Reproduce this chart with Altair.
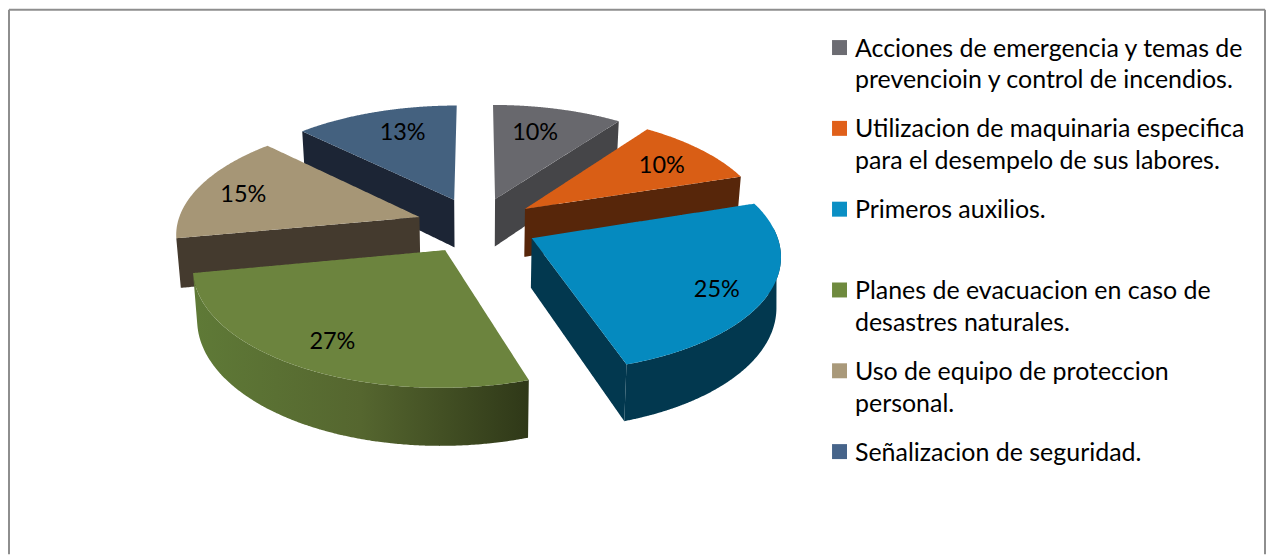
import math
import numpy as np
import pandas as pd
import altair as alt

# ---- chart values ----
categories = [
    "Acciones de emergencia y temas de prevencioin y control de incendios.",
    "Utilizacion de maquinaria especifica para el desempelo de sus labores.",
    "Primeros auxilios.",
    "Planes de evacuacion en caso de desastres naturales.",
    "Uso de equipo de proteccion personal.",
    "Señalizacion de seguridad.",
]
percent = [10, 10, 25, 27, 15.4, 12.6]
legend_lines = [
    ["Acciones de emergencia y temas de", "prevencioin y control de incendios."],
    ["Utilizacion de maquinaria especifica", "para el desempelo de sus labores."],
    ["Primeros auxilios."],
    ["Planes de evacuacion en caso de", "desastres naturales."],
    ["Uso de equipo de proteccion", "personal."],
    ["Señalizacion de seguridad."],
]
top_colors = ["#68686d", "#d95e15", "#058abf", "#6c843e", "#a69676", "#44617f"]
wall_colors = ["#454548", "#57260a", "#02384f", "#3f4e22", "#443a2e", "#1c2535"]
legend_colors = ["#6c6c72", "#e0601a", "#0a8fc4", "#6f8a3e", "#a9997a", "#46648a"]
green_wall_stops = ["#5f7a37", "#55662f", "#2f3818"]

# ---- view of the 3-D pie ----
X0, Y0, RX, RY, K = 478, 225, 243, 113, 0.13
EXPLODE, WALL, SHRINK = 0.25, 49, 0.985
LABEL_R = 0.76
LABEL_DX = [-9, 1, 8, -4, -8, 10]
LABEL_DY = [4, 3, 10, 6, 2, 2]
FONT = "Lato"
W, H = 1262, 547
DRAW_ORDER = [5, 0, 4, 1, 3, 2]
RADIAL_FACES = {0: "end", 1: "end", 2: "end", 4: "start", 5: "start"}
OUTER_WALL = {2: 85, 3: None}

sx = alt.Scale(domain=[8, 8 + W], range=[0, W], nice=False, zero=False)
sy = alt.Scale(domain=[8 + H, 8], range=[H, 0], nice=False, zero=False)

cum = np.cumsum([0] + percent)
total = cum[-1]
starts = [360 * c / total for c in cum[:-1]]
ends = [360 * c / total for c in cum[1:]]


def project(X, Z, lower=False):
    s = 1 / (1 + K * Z)
    x = X0 + RX * X * s
    y = Y0 - RY * Z * s
    if lower:
        x = X0 + (x - X0) * SHRINK
        y = y + WALL * s
    return (x, y)


def rim(i, deg, r=1.0, lower=False):
    mid = math.radians((starts[i] + ends[i]) / 2)
    t = math.radians(deg)
    return project(EXPLODE * math.sin(mid) + r * math.sin(t),
                   EXPLODE * math.cos(mid) + r * math.cos(t), lower)


def sweep(poly):
    xs = np.array([p[0] for p in poly])
    grid = sorted(set(np.linspace(xs.min(), xs.max(), 160).tolist() + xs.tolist()))
    rows = []
    n = len(poly)
    for x in grid:
        ys = []
        for a in range(n):
            (x1, y1), (x2, y2) = poly[a], poly[(a + 1) % n]
            if min(x1, x2) - 1e-9 <= x <= max(x1, x2) + 1e-9:
                if abs(x2 - x1) < 1e-9:
                    ys += [y1, y2]
                else:
                    ys.append(y1 + (y2 - y1) * (x - x1) / (x2 - x1))
        if ys:
            rows.append({"x": x, "y": min(ys), "y2": max(ys)})
    return pd.DataFrame(rows)


def area(poly, fill):
    return alt.Chart(sweep(poly)).mark_area(fill=fill, strokeWidth=0).encode(
        x=alt.X("x:Q", scale=sx, axis=None),
        y=alt.Y("y:Q", scale=sy, axis=None),
        y2="y2:Q",
    )


layers = []
for i in DRAW_ORDER:
    a0, a1 = starts[i], ends[i]
    if i in RADIAL_FACES:
        deg = a1 if RADIAL_FACES[i] == "end" else a0
        layers.append(area([rim(i, 0, 0), rim(i, deg), rim(i, deg, lower=True),
                            rim(i, 0, 0, lower=True)], wall_colors[i]))
    if i in OUTER_WALL:
        w0 = OUTER_WALL[i] if OUTER_WALL[i] is not None else a0
        ts = np.linspace(w0, a1, 70)
        poly = [rim(i, t) for t in ts] + [rim(i, t, lower=True) for t in ts[::-1]]
        fill = wall_colors[i]
        if i == 3:
            fill = alt.Gradient(
                gradient="linear", x1=0, x2=1, y1=0, y2=0,
                stops=[alt.GradientStop(color=c, offset=o)
                       for c, o in zip(green_wall_stops, [0, 0.5, 1])],
            )
        layers.append(area(poly, fill))
    ts = np.linspace(a0, a1, 70)
    layers.append(area([rim(i, 0, 0)] + [rim(i, t) for t in ts], top_colors[i]))

# percentage labels
lab = []
for i in range(len(percent)):
    x, y = rim(i, (starts[i] + ends[i]) / 2, LABEL_R)
    lab.append({"x": x + LABEL_DX[i], "y": y + LABEL_DY[i], "label": f"{round(percent[i])}%"})
layers.append(alt.Chart(pd.DataFrame(lab)).mark_text(
    font=FONT, fontSize=23.5, color="#000000", align="center", baseline="middle"
).encode(x=alt.X("x:Q", scale=sx, axis=None), y=alt.Y("y:Q", scale=sy, axis=None), text="label:N"))

# legend
LEG_Y, LEG_STEP, LEG_LINE, LEG_SYM, LEG_TXT = 47, 81, 32, 841.5, 857
sym = pd.DataFrame([{"x": LEG_SYM, "y": LEG_Y + LEG_STEP * i, "cat": c} for i, c in enumerate(categories)])
layers.append(alt.Chart(sym).mark_square(size=225, opacity=1).encode(
    x=alt.X("x:Q", scale=sx, axis=None), y=alt.Y("y:Q", scale=sy, axis=None),
    color=alt.Color("cat:N", scale=alt.Scale(domain=categories, range=legend_colors), legend=None),
))
txt = pd.DataFrame([{"x": LEG_TXT, "y": LEG_Y + 1 + LEG_STEP * i + LEG_LINE * j, "t": t}
                    for i, lines in enumerate(legend_lines) for j, t in enumerate(lines)])
layers.append(alt.Chart(txt).mark_text(
    font=FONT, fontSize=25, color="#000000", align="left", baseline="middle"
).encode(x=alt.X("x:Q", scale=sx, axis=None), y=alt.Y("y:Q", scale=sy, axis=None), text="t:N"))

# frame
frame = pd.DataFrame([
    {"x": 9, "x2": 9, "y": 9, "y2": 8 + H},
    {"x": 9, "x2": 1268, "y": 9, "y2": 9},
    {"x": 1268, "x2": 1268, "y": 9, "y2": 8 + H},
])
layers.append(alt.Chart(frame).mark_rule(color="#8e8e8e", strokeWidth=2).encode(
    x=alt.X("x:Q", scale=sx, axis=None), x2="x2:Q",
    y=alt.Y("y:Q", scale=sy, axis=None), y2="y2:Q",
))

chart = alt.layer(*layers).properties(
    width=W, height=H, padding=0, autosize=alt.AutoSizeParams(type="none")
).configure_view(stroke=None).resolve_scale(color="independent")

chart.save("out.html", embed_options={"renderer": "svg", "actions": False})
